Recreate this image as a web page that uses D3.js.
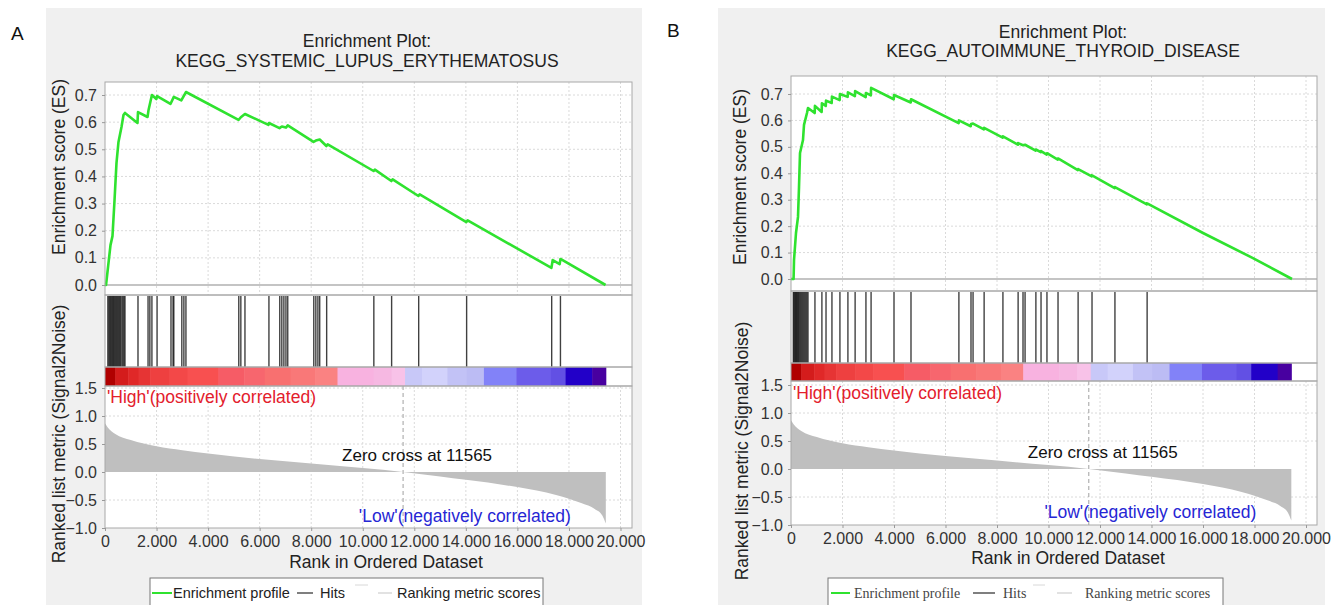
<!DOCTYPE html>
<html>
<head>
<meta charset="utf-8">
<script src="https://cdn.jsdelivr.net/npm/d3@7"></script>
<style>
  body { margin: 0; background: #fff; }
  svg { display: block; font-family: "Liberation Sans", Arial, sans-serif; }
</style>
</head>
<body>
<svg id="chart" width="1340" height="605"></svg>
<script>
// ---- data ----
const rankTicks = [0, 2000, 4000, 6000, 8000, 10000, 12000, 14000, 16000, 18000, 20000];
const esTicks = [0, 0.1, 0.2, 0.3, 0.4, 0.5, 0.6, 0.7];
const metricTicks = [-1, -0.5, 0, 0.5, 1, 1.5];
const zeroCross = 11565;

// running enrichment score [rank, ES]
const esCurveA = [
  [0, 0], [40, 0], [213, 0.147], [290, 0.18], [370, 0.313], [446, 0.45], [523, 0.527], [640, 0.582],
  [717, 0.626], [775, 0.634], [1260, 0.597], [1280, 0.637], [1650, 0.619], [1690, 0.645], [1820, 0.70],
  [1990, 0.685], [2020, 0.696], [2540, 0.667], [2670, 0.693], [2960, 0.68], [3140, 0.711],
  [5180, 0.608], [5270, 0.618], [5430, 0.63], [6340, 0.59], [6360, 0.597], [6770, 0.578], [6860, 0.584],
  [7020, 0.58], [7090, 0.588], [8090, 0.527], [8180, 0.532], [8330, 0.536], [8590, 0.512], [8640, 0.518],
  [10420, 0.42], [10470, 0.425], [11110, 0.383], [11160, 0.389], [12160, 0.328], [12210, 0.334],
  [14020, 0.232], [14070, 0.238], [17320, 0.063], [17370, 0.092], [17640, 0.077], [17670, 0.096], [19420, 0]
];
const esCurveB = [
  [0, 0], [100, 0], [117, 0.072], [194, 0.174], [272, 0.235], [311, 0.348], [350, 0.477], [466, 0.526],
  [505, 0.583], [621, 0.628], [660, 0.647], [920, 0.628], [930, 0.655], [1190, 0.632], [1200, 0.665],
  [1350, 0.655], [1360, 0.675], [1580, 0.666], [1590, 0.69], [1890, 0.677], [1900, 0.70], [2200, 0.689],
  [2210, 0.706], [2480, 0.692], [2490, 0.711], [2900, 0.688], [2910, 0.704], [3100, 0.695], [3110, 0.723],
  [3990, 0.68], [4000, 0.696], [4650, 0.668], [4660, 0.68], [6510, 0.59], [6520, 0.60], [6980, 0.578],
  [6990, 0.586], [7070, 0.588], [7490, 0.566], [7500, 0.572], [8220, 0.535], [8230, 0.54], [8810, 0.508],
  [8820, 0.514], [9010, 0.506], [9090, 0.508], [9500, 0.486], [9510, 0.49], [9700, 0.48], [9710, 0.484],
  [9930, 0.471], [9940, 0.476], [10360, 0.452], [10370, 0.456], [11140, 0.412], [11150, 0.416],
  [11680, 0.388], [11690, 0.392], [12570, 0.344], [12580, 0.348], [13820, 0.282], [13830, 0.286],
  [16000, 0.174], [17940, 0.079], [19456, 0]
];

// gene set hit positions (rank)
const hitsA = [110, 150, 185, 220, 260, 300, 330, 370, 410, 450, 490, 530, 570, 610, 660, 700, 740, 775,
  1280, 1670, 1740, 1820, 2020, 2560, 2640, 2670, 2980, 3060, 3140, 5190, 5270, 5430, 6360,
  6780, 6860, 6940, 7020, 7090, 8100, 8180, 8260, 8330, 8600, 10430, 11120, 12170, 14030, 17330, 17670];
const hitsB = [90, 120, 150, 180, 210, 240, 270, 300, 340, 380, 420, 460, 500, 540, 580, 620, 660,
  930, 1200, 1360, 1590, 1900, 2210, 2490, 2910, 3110, 4000, 4660, 6520, 6990, 7070, 7500, 8230,
  8820, 9010, 9090, 9510, 9710, 9940, 10370, 11150, 11690, 12580, 13830];

// ranked list metric (same dataset in both panels) [rank, value]
const metricCurve = [
  [0, 0.87], [100, 0.80], [400, 0.68], [1000, 0.57], [2000, 0.46], [3000, 0.39], [4000, 0.33],
  [6000, 0.23], [8000, 0.15], [10000, 0.07], [11565, 0], [13000, -0.08], [14000, -0.14],
  [16000, -0.27], [17500, -0.41], [18500, -0.56], [19000, -0.66], [19300, -0.78], [19430, -0.92]
];

// colour bar segments: start rank, end rank, colour
const barStarts = [0, 400, 900, 1300, 1750, 2500, 3200, 4400, 5400, 6200, 7200, 8150, 9020, 10420,
  11120, 11640, 12300, 13280, 14020, 14700, 15960, 17300, 17870, 18900];
const barEnds = [400, 900, 1300, 1750, 2500, 3200, 4400, 5400, 6200, 7200, 8150, 9020, 10420, 11120,
  11640, 12300, 13280, 14020, 14700, 15960, 17300, 17870, 18900, 19430];
const barColors = ["#b00000", "#d41c1c", "#e02828", "#e63434", "#ee4040", "#f34848", "#f85050",
  "#f65c66", "#f7666e", "#f87070", "#f97878", "#fa8282", "#f8b2e0", "#f6b8e2", "#f8c2e8", "#c8c8f8",
  "#d2d2fb", "#c2c2f6", "#bcbcf4", "#8282f8", "#6c5cea", "#6250e4", "#2200c8", "#4800a0"];

const legendLabels = ["Enrichment profile", "Hits", "Ranking metric scores"];

const panels = [
  {
    letter: "A", letterX: 11, letterY: 40,
    bg: [46, 8, 642, 605],
    title: ["Enrichment Plot:", "KEGG_SYSTEMIC_LUPUS_ERYTHEMATOSUS"], titleX: 367, titleY: [47, 67],
    left: 105, right: 632, xMax: 20446,
    esTop: 82, esBottom: 295, esZero: 285, es07: 95,
    barTop: 367, barBottom: 386, rankBottom: 528, mMin: 528, mMax: 388,
    esLabel: [59, 167], mLabel: [59, 434], xLabel: [386, 568],
    highY: 403, zeroY: 461, lowY: 522,
    es: esCurveA, hits: hitsA,
    legend: { x: 150, x2: 543, y: 578, serif: false,
      green: [2, 22], t1: 23, hits: [147, 163], t2: 170, faint: [205, 218], light: [228, 242], t3: 247 }
  },
  {
    letter: "B", letterX: 667, letterY: 37,
    bg: [718, 8, 1325, 605],
    title: ["Enrichment Plot:", "KEGG_AUTOIMMUNE_THYROID_DISEASE"], titleX: 1063, titleY: [38, 57],
    left: 791, right: 1317, xMax: 20427,
    esTop: 76, esBottom: 291, esZero: 279, es07: 94,
    barTop: 363, barBottom: 381, rankBottom: 525, mMin: 525, mMax: 385,
    esLabel: [740, 177], mLabel: [742, 451], xLabel: [1068, 564],
    highY: 399, zeroY: 458, lowY: 518,
    es: esCurveB, hits: hitsB,
    legend: { x: 828, x2: 1223, y: 578, serif: true,
      green: [3, 22], t1: 26, hits: [145, 167], t2: 175, faint: [205, 217], light: [229, 244], t3: 257 }
  }
];

const svg = d3.select("#chart");
const fmtRank = d3.formatLocale({ decimal: ",", thousands: ".", grouping: [3], currency: ["", ""] }).format(",");
const fmt1 = d3.format(".1f");

panels.forEach(p => {
  const g = svg.append("g");

  g.append("rect")
    .attr("x", p.bg[0]).attr("y", p.bg[1])
    .attr("width", p.bg[2] - p.bg[0]).attr("height", p.bg[3] - p.bg[1])
    .attr("fill", "#f0f0f0");

  g.append("text")
    .attr("x", p.letterX).attr("y", p.letterY)
    .attr("font-size", 19).attr("fill", "#111")
    .text(p.letter);

  g.selectAll(".title").data(p.title).join("text")
    .attr("x", p.titleX).attr("y", (d, i) => p.titleY[i])
    .attr("text-anchor", "middle").attr("font-size", 17.5).attr("fill", "#222")
    .text(d => d);

  const x = d3.scaleLinear().domain([0, p.xMax]).range([p.left, p.right]);
  const yEs = d3.scaleLinear().domain([0, 0.7]).range([p.esZero, p.es07]);
  const yM = d3.scaleLinear().domain([-1, 1.5]).range([p.mMin, p.mMax]);
  const w = p.right - p.left;

  // white plot areas
  g.append("rect").attr("x", p.left).attr("y", p.esTop)
    .attr("width", w).attr("height", p.rankBottom - p.esTop).attr("fill", "#fff");

  // grids
  const grid = g.append("g").attr("stroke", "#dadada").attr("stroke-dasharray", "2,2").attr("stroke-width", 1);
  grid.selectAll(".vg1").data(rankTicks.slice(1)).join("line")
    .attr("x1", d => x(d)).attr("x2", d => x(d)).attr("y1", p.esTop).attr("y2", p.esBottom);
  grid.selectAll(".vg2").data(rankTicks.slice(1)).join("line")
    .attr("x1", d => x(d)).attr("x2", d => x(d)).attr("y1", p.barBottom).attr("y2", p.rankBottom);
  grid.selectAll(".hg1").data(esTicks.slice(1)).join("line")
    .attr("x1", p.left).attr("x2", p.right).attr("y1", d => yEs(d)).attr("y2", d => yEs(d));
  grid.selectAll(".hg2").data(metricTicks.filter(d => d !== 0 && d !== -1)).join("line")
    .attr("x1", p.left).attr("x2", p.right).attr("y1", d => yM(d)).attr("y2", d => yM(d));

  // ES zero line
  g.append("line").attr("x1", p.left).attr("x2", p.right)
    .attr("y1", yEs(0)).attr("y2", yEs(0)).attr("stroke", "#b0b0b0").attr("stroke-width", 1.3);

  // ranked list metric area
  const area = d3.area().x(d => x(d[0])).y0(yM(0)).y1(d => yM(d[1])).curve(d3.curveMonotoneX);
  g.append("path").datum(metricCurve).attr("d", area).attr("fill", "#bfbfbf");

  // zero cross
  g.append("line")
    .attr("x1", x(zeroCross)).attr("x2", x(zeroCross))
    .attr("y1", p.barBottom).attr("y2", p.rankBottom)
    .attr("stroke", "#a0a0a0").attr("stroke-dasharray", "4,3");

  // colour bar
  g.selectAll(".seg").data(barColors).join("rect")
    .attr("x", (d, i) => x(barStarts[i]))
    .attr("width", (d, i) => x(barEnds[i]) - x(barStarts[i]) + 0.5)
    .attr("y", p.barTop).attr("height", p.barBottom - p.barTop)
    .attr("fill", d => d);

  // hits
  g.selectAll(".hit").data(p.hits).join("line")
    .attr("x1", d => x(d)).attr("x2", d => x(d))
    .attr("y1", p.esBottom + 1).attr("y2", p.barTop)
    .attr("stroke", "#111").attr("stroke-width", 1.4).attr("stroke-opacity", 0.8);

  // enrichment profile
  const line = d3.line().x(d => x(d[0])).y(d => yEs(d[1]));
  g.append("path").datum(p.es).attr("d", line)
    .attr("fill", "none").attr("stroke", "#2fe22f").attr("stroke-width", 2.6)
    .attr("stroke-linejoin", "round");

  // panel borders
  const border = g.append("g").attr("stroke", "#a8a8a8").attr("fill", "none");
  border.append("rect").attr("x", p.left).attr("y", p.esTop).attr("width", w).attr("height", p.esBottom - p.esTop);
  border.append("rect").attr("x", p.left).attr("y", p.esBottom).attr("width", w).attr("height", p.barTop - p.esBottom);
  border.append("rect").attr("x", p.left).attr("y", p.barTop).attr("width", w).attr("height", p.barBottom - p.barTop);
  border.append("rect").attr("x", p.left).attr("y", p.barBottom).attr("width", w).attr("height", p.rankBottom - p.barBottom);

  // axes
  const styleAxis = sel => {
    sel.select(".domain").remove();
    sel.selectAll(".tick line").attr("stroke", "#999");
    sel.selectAll(".tick text").attr("fill", "#333").attr("font-size", 16)
      .attr("font-family", "'Liberation Sans', Arial, sans-serif");
  };
  g.append("g").attr("transform", `translate(${p.left},0)`)
    .call(d3.axisLeft(yEs).tickValues(esTicks).tickFormat(fmt1).tickSize(3).tickPadding(5))
    .call(styleAxis);
  g.append("g").attr("transform", `translate(${p.left},0)`)
    .call(d3.axisLeft(yM).tickValues(metricTicks).tickFormat(fmt1).tickSize(3).tickPadding(5))
    .call(styleAxis);
  g.append("g").attr("transform", `translate(0,${p.rankBottom})`)
    .call(d3.axisBottom(x).tickValues(rankTicks).tickFormat(fmtRank).tickSize(3).tickPadding(5))
    .call(styleAxis);

  // axis labels
  g.append("text")
    .attr("transform", `translate(${p.esLabel[0]},${p.esLabel[1]}) rotate(-90)`)
    .attr("text-anchor", "middle").attr("dominant-baseline", "central")
    .attr("font-size", 17.5).attr("fill", "#222").text("Enrichment score (ES)");
  g.append("text")
    .attr("transform", `translate(${p.mLabel[0]},${p.mLabel[1]}) rotate(-90)`)
    .attr("text-anchor", "middle").attr("dominant-baseline", "central")
    .attr("font-size", 17.5).attr("fill", "#222").text("Ranked list metric (Signal2Noise)");
  g.append("text")
    .attr("x", p.xLabel[0]).attr("y", p.xLabel[1])
    .attr("text-anchor", "middle").attr("font-size", 17.5).attr("fill", "#222")
    .text("Rank in Ordered Dataset");

  // annotations
  g.append("text").attr("x", p.left + 2).attr("y", p.highY)
    .attr("font-size", 17.5).attr("fill", "#e3202c").text("'High'(positively correlated)");
  g.append("text").attr("x", x(zeroCross) + 14).attr("y", p.zeroY)
    .attr("text-anchor", "middle").attr("font-size", 17).attr("fill", "#111")
    .text("Zero cross at " + zeroCross);
  g.append("text").attr("x", x(19430) - 35).attr("y", p.lowY)
    .attr("text-anchor", "end").attr("font-size", 17.5).attr("fill", "#2626d4")
    .text("'Low'(negatively correlated)");

  // legend
  const L = p.legend;
  const lg = g.append("g").attr("transform", `translate(${L.x},${L.y})`);
  lg.append("rect").attr("x", 0).attr("y", 0).attr("width", L.x2 - L.x).attr("height", 40)
    .attr("fill", "#fff").attr("stroke", "#777");
  lg.append("line").attr("x1", L.green[0]).attr("x2", L.green[1]).attr("y1", 15).attr("y2", 15)
    .attr("stroke", "#2fe22f").attr("stroke-width", 2);
  lg.append("line").attr("x1", L.hits[0]).attr("x2", L.hits[1]).attr("y1", 15).attr("y2", 15)
    .attr("stroke", "#555").attr("stroke-width", 1.5);
  lg.append("line").attr("x1", L.faint[0]).attr("x2", L.faint[1]).attr("y1", 7).attr("y2", 7)
    .attr("stroke", "#d8d8d8").attr("stroke-width", 1);
  lg.append("line").attr("x1", L.light[0]).attr("x2", L.light[1]).attr("y1", 15).attr("y2", 15)
    .attr("stroke", "#cfcfcf").attr("stroke-width", 1.2);
  lg.selectAll(".lt").data(legendLabels).join("text")
    .attr("x", (d, i) => [L.t1, L.t2, L.t3][i]).attr("y", 20)
    .attr("font-size", L.serif ? 14 : 14.5)
    .attr("font-family", L.serif ? "'Liberation Serif', 'Times New Roman', serif" : "'Liberation Sans', Arial, sans-serif")
    .attr("fill", L.serif ? "#444" : "#222")
    .text(d => d);
});
</script>
</body>
</html>
